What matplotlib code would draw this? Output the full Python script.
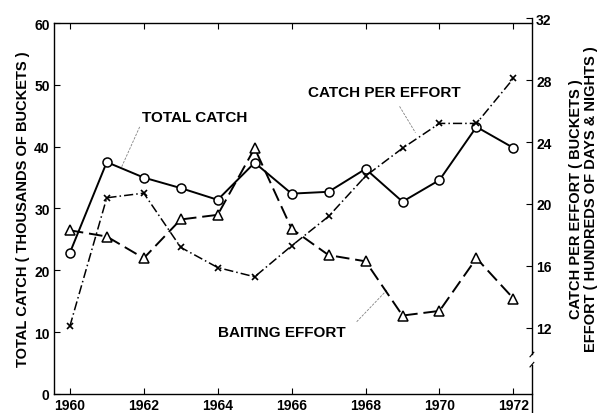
import numpy as np
import matplotlib.pyplot as plt

plt.rcParams['font.family'] = ['Liberation Sans', 'DejaVu Sans']
plt.rcParams['font.weight'] = 'bold'
plt.rcParams['axes.labelweight'] = 'bold'

years = np.arange(1960, 1973)
total_catch = [22.8, 37.5, 35.0, 33.3, 31.4, 37.4, 32.4, 32.7, 36.4, 31.1, 34.6, 43.2, 39.8]
catch_per_effort = [12.1, 20.4, 20.7, 17.2, 15.9, 15.3, 17.3, 19.2, 21.8, 23.6, 25.2, 25.2, 28.1]
baiting_effort = [18.3, 17.9, 16.5, 19.0, 19.3, 23.6, 18.4, 16.7, 16.3, 12.8, 13.1, 16.5, 13.9]

left_ticks = [0, 10, 20, 30, 40, 50, 60]
right_ticks = [12, 16, 20, 24, 28, 32]
x_ticks = [1960, 1962, 1964, 1966, 1968, 1970, 1972]

fig = plt.figure(figsize=(5.99, 4.14), dpi=100)
ax = fig.add_axes([0.090, 0.046, 0.798, 0.896])
# right scale sits a few pixels higher than the left one in the original
ax2 = fig.add_axes([0.090, 0.046, 0.798, 0.908], sharex=ax)
ax2.patch.set_visible(False)

ax.plot(years, total_catch, color='black', lw=1.4, marker='o', ms=6.5,
        mfc='white', mec='black', mew=1.1, zorder=3)
ax2.plot(years, catch_per_effort, color='black', lw=1.1, ls=(0, (6, 2, 1, 2)),
         marker='x', ms=5, mew=1.2, zorder=3)
ax2.plot(years, baiting_effort, color='black', lw=1.4, ls=(0, (7, 3)),
         marker='^', ms=6.5, mfc='white', mec='black', mew=1.1, zorder=3)

ax.set_xlim(1959.57, 1972.5)
ax.set_ylim(0, 60)
ax2.set_ylim(7.74, 32)
ax.set_xticks(x_ticks)
ax.set_yticks(left_ticks)
ax2.set_yticks(right_ticks)

ax.tick_params(direction='in', length=4, labelsize=10, top=True, width=0.8, pad=3)
ax2.yaxis.tick_right()
ax2.tick_params(axis='y', direction='in', length=4, labelsize=10, width=0.8, pad=3)
ax2.tick_params(axis='x', bottom=False, labelbottom=False)
for sp in ax.spines.values():
    sp.set_linewidth(1.0)
for sp in ax2.spines.values():
    sp.set_visible(False)
ax.spines['right'].set_visible(False)

# right spine with a break below 12
ax2.plot([1, 1], [-0.05, 0.078], transform=ax2.transAxes, color='black', lw=1.0, clip_on=False)
ax2.plot([1, 1], [0.105, 1], transform=ax2.transAxes, color='black', lw=1.0, clip_on=False)
ax2.plot([0.996, 1.004], [0.072, 0.084], transform=ax2.transAxes, color='black', lw=0.8, clip_on=False)
ax2.plot([0.996, 1.004], [0.099, 0.111], transform=ax2.transAxes, color='black', lw=0.8, clip_on=False)

ax.set_ylabel('TOTAL CATCH ( THOUSANDS OF BUCKETS )', fontsize=10.5, labelpad=3)
fig.text(0.962, 0.52, 'CATCH PER EFFORT ( BUCKETS )', rotation=90,
         ha='center', va='center', fontsize=10.5)
fig.text(0.986, 0.52, 'EFFORT ( HUNDREDS OF DAYS & NIGHTS )', rotation=90,
         ha='center', va='center', fontsize=10.5)

# annotations with thin leader lines
leader = dict(color='gray', lw=0.6, ls=(0, (3, 1.5)))
ax.text(1961.95, 44.8, 'TOTAL CATCH', fontsize=11, ha='left', va='center')
ax.plot([1961.89, 1961.4], [43.2, 36.7], **leader)
ax2.text(1966.43, 27.2, 'CATCH PER EFFORT', fontsize=11, ha='left', va='center')
ax2.plot([1968.92, 1969.35], [26.3, 24.6], **leader)
ax2.text(1964.0, 11.74, 'BAITING EFFORT', fontsize=11, ha='left', va='center')
ax2.plot([1967.76, 1968.6], [12.4, 14.5], **leader)

fig.savefig('out.png', dpi=100)
